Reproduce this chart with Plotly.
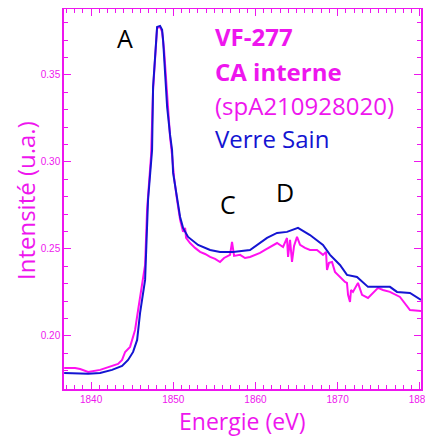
import plotly.graph_objects as go

# Blue: Verre Sain
energy_sain = [1836.72, 1838.42, 1839.64, 1841.09, 1842.55, 1843.77, 1844.50, 1845.11, 1845.60,
               1845.96, 1846.33, 1846.57, 1846.93, 1847.42, 1847.54, 1847.79, 1848.03, 1848.39,
               1848.64, 1848.76, 1849.00, 1849.25, 1849.61, 1849.85, 1849.98, 1850.46, 1850.83,
               1851.19, 1851.80, 1853.02, 1854.48, 1855.69, 1857.27, 1859.34, 1861.41, 1862.63,
               1863.84, 1865.18, 1866.64, 1868.22, 1869.08, 1870.29, 1871.14, 1872.36, 1873.70,
               1876.37, 1877.23, 1878.81, 1880.15]
intens_sain = [0.1787, 0.1782, 0.1782, 0.1787, 0.1805, 0.1828, 0.1862, 0.1908, 0.1977,
               0.2132, 0.2264, 0.2322, 0.2782, 0.3069, 0.3431, 0.3586, 0.3776, 0.3782,
               0.3759, 0.3701, 0.3529, 0.3316, 0.3155, 0.3069, 0.2937, 0.2799, 0.2684,
               0.2621, 0.2569, 0.2523, 0.2494, 0.2483, 0.2483, 0.2494, 0.2563, 0.2592,
               0.2598, 0.2621, 0.2580, 0.2523, 0.2466, 0.2408, 0.2351, 0.2339, 0.2282,
               0.2282, 0.2253, 0.2247, 0.2207]

# Magenta: CA interne (spA210928020)
energy_ca = [1836.72, 1838.05, 1838.66, 1839.64, 1841.09, 1842.31, 1843.28, 1843.77, 1844.14,
             1844.74, 1844.99, 1845.35, 1845.72, 1846.20, 1846.57, 1846.81, 1847.30, 1847.54,
             1847.79, 1848.03, 1848.39, 1848.64, 1848.88, 1849.12, 1849.37, 1849.61, 1849.85,
             1850.10, 1850.46, 1850.83, 1851.19, 1851.44, 1851.56, 1852.04, 1852.65, 1853.26,
             1853.87, 1854.48, 1855.09, 1855.69, 1856.18, 1856.91, 1857.15, 1857.40, 1858.13,
             1858.73, 1859.34, 1859.95, 1860.56, 1861.17, 1861.78, 1862.63, 1863.36, 1863.84,
             1863.97, 1864.21, 1864.45, 1864.70, 1865.06, 1865.43, 1866.03, 1866.64, 1867.49,
             1868.22, 1868.59, 1868.71, 1868.95, 1869.32, 1869.68, 1870.29, 1870.90, 1871.14,
             1871.27, 1871.51, 1871.63, 1871.87, 1872.48, 1872.97, 1873.70, 1874.92, 1875.52,
             1876.37, 1877.59, 1878.81, 1880.15]
intens_ca = [0.1816, 0.1816, 0.1810, 0.1793, 0.1805, 0.1822, 0.1839, 0.1862, 0.1908,
             0.1937, 0.1977, 0.2034, 0.2149, 0.2293, 0.2408, 0.2724, 0.3040, 0.3414,
             0.3586, 0.3770, 0.3776, 0.3747, 0.3644, 0.3471, 0.3287, 0.3144, 0.3040,
             0.2908, 0.2782, 0.2667, 0.2598, 0.2621, 0.2563, 0.2534, 0.2506, 0.2483,
             0.2471, 0.2454, 0.2443, 0.2425, 0.2448, 0.2466, 0.2540, 0.2460, 0.2466,
             0.2448, 0.2454, 0.2466, 0.2477, 0.2494, 0.2511, 0.2534, 0.2511, 0.2563,
             0.2454, 0.2552, 0.2425, 0.2517, 0.2569, 0.2523, 0.2506, 0.2494, 0.2494,
             0.2466, 0.2483, 0.2379, 0.2420, 0.2425, 0.2368, 0.2339, 0.2310, 0.2305,
             0.2236, 0.2195, 0.2264, 0.2253, 0.2305, 0.2236, 0.2218, 0.2276, 0.2264,
             0.2253, 0.2224, 0.2149, 0.2144]

x_ticks = [1840, 1850, 1860, 1870, 1880]
y_ticks = [0.20, 0.25, 0.30, 0.35]

MAG = "#ee16ee"
BLUE = "#1414d2"

# page body margin offsets the figure by 8 px
OFF = 8
W, H = 433 - OFF, 440 - OFF
L, R, T, B = 64 - OFF, 421 - OFF, 9 - OFF, 389 - OFF
PW, PH = R - L, B - T

fig = go.Figure()
fig.add_trace(go.Scatter(x=energy_ca, y=intens_ca, mode="lines", line=dict(color="#ff10f0", width=2), showlegend=False))
fig.add_trace(go.Scatter(x=energy_sain, y=intens_sain, mode="lines", line=dict(color=BLUE, width=2), showlegend=False))

axis_common = dict(showline=True, linecolor=MAG, linewidth=1.5, mirror="allticks",
                   ticks="inside", ticklen=7, tickcolor=MAG, tickwidth=1,
                   showgrid=False, zeroline=False, automargin=False,
                   tickfont=dict(family="Liberation Sans", size=10, color=MAG))

fig.update_xaxes(range=[1836.7, 1880.15], tickvals=x_ticks, ticktext=[str(v) for v in x_ticks],
                 minor=dict(dtick=1, tick0=1840, ticks="inside", ticklen=4, tickcolor=MAG),
                 **axis_common)
fig.update_yaxes(range=[0.1695, 0.3879], tickvals=y_ticks, ticktext=[f"{v:.2f}" for v in y_ticks],
                 minor=dict(dtick=0.01, tick0=0.2, ticks="inside", ticklen=4, tickcolor=MAG),
                 **axis_common)


def px2paper(px, py):
    # px, py are page pixel positions in the reference picture
    return (px - OFF - L) / PW, 1 - (py - OFF - T) / PH


labels = [
    ("VF-277", 213, 36, MAG, True),
    ("CA interne", 213, 71, MAG, True),
    ("(spA210928020)", 213, 105, MAG, False),
    ("Verre Sain", 213, 138, BLUE, False),
]
for txt, px, py, col, bold in labels:
    xx, yy = px2paper(px, py)
    fig.add_annotation(text=f"<b>{txt}</b>" if bold else txt, xref="paper", yref="paper",
                       x=xx, y=yy, xanchor="left", yanchor="middle",
                       showarrow=False, font=dict(family="Open Sans", size=24, color=col))

for txt, px, py in [("A", 125, 38), ("C", 228, 204), ("D", 285, 192)]:
    xx, yy = px2paper(px, py)
    fig.add_annotation(text=txt, xref="paper", yref="paper", x=xx, y=yy,
                       xanchor="center", yanchor="middle",
                       showarrow=False, font=dict(family="Open Sans", size=25, color="black"))

# axis titles
xx, yy = px2paper(242, 421)
fig.add_annotation(text="Energie (eV)", xref="paper", yref="paper", x=xx, y=yy,
                   xanchor="center", yanchor="middle", showarrow=False,
                   font=dict(family="Open Sans", size=23, color=MAG))
xx, yy = px2paper(25, 201)
fig.add_annotation(text="Intensité (u.a.)", xref="paper", yref="paper", x=xx, y=yy,
                   xanchor="center", yanchor="middle", showarrow=False, textangle=-90,
                   font=dict(family="Open Sans", size=24, color=MAG))

fig.update_layout(width=W, height=H, margin=dict(l=L, r=W - R, t=T, b=H - B),
                  plot_bgcolor="white", paper_bgcolor="white")

fig.write_html("out.html")
